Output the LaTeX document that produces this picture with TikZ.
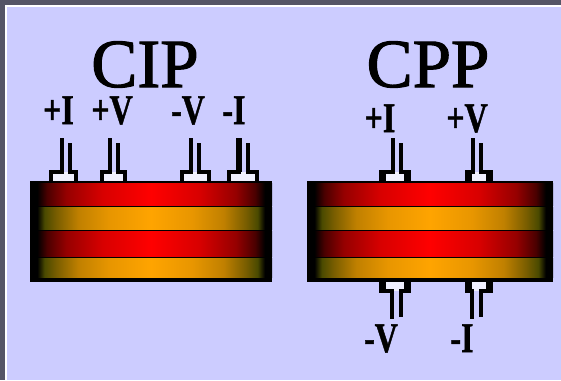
\documentclass[tikz,border=0pt]{standalone}
\usepackage{fontspec}
\setmainfont{Liberation Serif}
\newfontfamily\heavytitle[FakeBold=1.6]{Liberation Serif}
\newfontfamily\heavylabel[FakeBold=1.2]{Liberation Serif Bold}
\definecolor{amberC}{HTML}{FFA400}
\definecolor{panelC}{HTML}{CCCCFF}
\definecolor{slateC}{HTML}{555566}
\definecolor{oliveD}{HTML}{4A4A00}
\definecolor{redA}{HTML}{4A0000}
\definecolor{redB}{HTML}{960000}
\definecolor{redC}{HTML}{D80000}
\definecolor{ambA}{HTML}{7A5E00}
\definecolor{ambB}{HTML}{C08000}
\definecolor{ambC}{HTML}{E89600}
% a filled path's box maps onto the central 25bp--75bp of the shading
\pgfdeclarehorizontalshading{redband}{100bp}{color(0bp)=(black);color(26.5bp)=(black);color(28.5bp)=(redA);color(32.5bp)=(redB);color(40bp)=(redC);color(50bp)=(red);color(60bp)=(redC);color(67.5bp)=(redB);color(71.5bp)=(redA);color(73.5bp)=(black);color(100bp)=(black)}
\pgfdeclarehorizontalshading{amberband}{100bp}{color(0bp)=(black);color(26.5bp)=(black);color(28bp)=(oliveD);color(30.5bp)=(ambA);color(35bp)=(ambB);color(41.5bp)=(ambC);color(50bp)=(amberC);color(58.5bp)=(ambC);color(65bp)=(ambB);color(69.5bp)=(ambA);color(72bp)=(oliveD);color(73.5bp)=(black);color(100bp)=(black)}
\tikzset{
  wire/.style={line width=4pt,black,line cap=butt,line join=miter},
  footside/.style={line width=6.5pt,black},
  padfill/.style={fill=white!70!panelC,draw=none},
  title/.style={anchor=base,font=\fontsize{69pt}{69pt}\heavytitle,inner sep=0pt},
  pinlabel/.style={anchor=base,font=\fontsize{32pt}{32pt}\heavylabel,inner sep=0pt},
  redlayer/.style={shading=redband},
  amberlayer/.style={shading=amberband},
}
\newcommand{\stretched}[1]{\scalebox{1}[1.32]{#1}}
% foot-left, inner-a, inner-b, foot-right, tip-a, tip-b, pad edge, shoulder
\newcommand{\pinlead}[8]{%
  \fill[padfill] (#1,#7) rectangle (#4,#8);
  \draw[wire] (#1,#7) -- (#1,#8) -- (#2,#8) -- (#2,#5);
  \draw[wire] (#3,#6) -- (#3,#8) -- (#4,#8) -- (#4,#7);
}
\newcommand{\thickfoot}[4]{%
  \draw[footside] (#1,#3) -- (#1,#4);
  \draw[footside] (#2,#3) -- (#2,#4);
}
\newcommand{\stack}[2]{%
  \fill[black] (#1,181) rectangle (#2,282);
  \fill[redlayer] (#1,183) rectangle (#2,205);
  \fill[amberlayer] (#1,207) rectangle (#2,229);
  \fill[redlayer] (#1,231) rectangle (#2,256);
  \fill[amberlayer] (#1,258) rectangle (#2,277);
}
\begin{document}
\begin{tikzpicture}[x=1pt,y=-1pt]
\useasboundingbox (0,0) rectangle (561,380);
\fill[slateC] (0,0) rectangle (561,380);
\fill[white] (5,5) rectangle (561,380);
\fill[panelC] (7,6.5) rectangle (561,380);
% CIP
\node[title] (ciptitle) at (145,87) {CIP};
\stack{30}{272}
\pinlead{51}{62}{70}{76}{138}{143}{181}{172}
\pinlead{102}{110}{118}{125}{138}{143}{181}{172}
\pinlead{182}{191}{199}{209}{138}{143}{181}{172}
\pinlead{229}{238.5}{248}{257}{138}{143}{181}{172}
\draw[line width=6pt] (239,138) -- (239,172);
\node[pinlabel] (cipa) at (58.5,124) {\stretched{+I}};
\node[pinlabel] (cipb) at (112,124) {\stretched{+V}};
\node[pinlabel] (cipc) at (188,124) {\stretched{-V}};
\node[pinlabel] (cipd) at (234,124) {\stretched{-I}};
% CPP
\node[title] (cpptitle) at (428,87) {CPP};
\stack{307}{553}
\pinlead{382}{392.5}{400.5}{408}{138}{143}{181}{172}
\pinlead{468}{472.5}{480.5}{490}{138}{143}{181}{172}
\pinlead{382}{392}{400.5}{408}{319}{317}{282}{291}
\pinlead{468}{471.5}{480.5}{490}{319}{317}{282}{291}
\thickfoot{382.5}{407.5}{170}{181}
\thickfoot{468.5}{489.5}{170}{181}
\thickfoot{382.5}{407.5}{282}{293}
\thickfoot{468.5}{489.5}{282}{293}
\node[pinlabel] (cppa) at (380,132) {\stretched{+I}};
\node[pinlabel] (cppb) at (467,132) {\stretched{+V}};
\node[pinlabel] (cppc) at (381,352) {\stretched{-V}};
\node[pinlabel] (cppd) at (462,352) {\stretched{-I}};
\end{tikzpicture}
\end{document}
